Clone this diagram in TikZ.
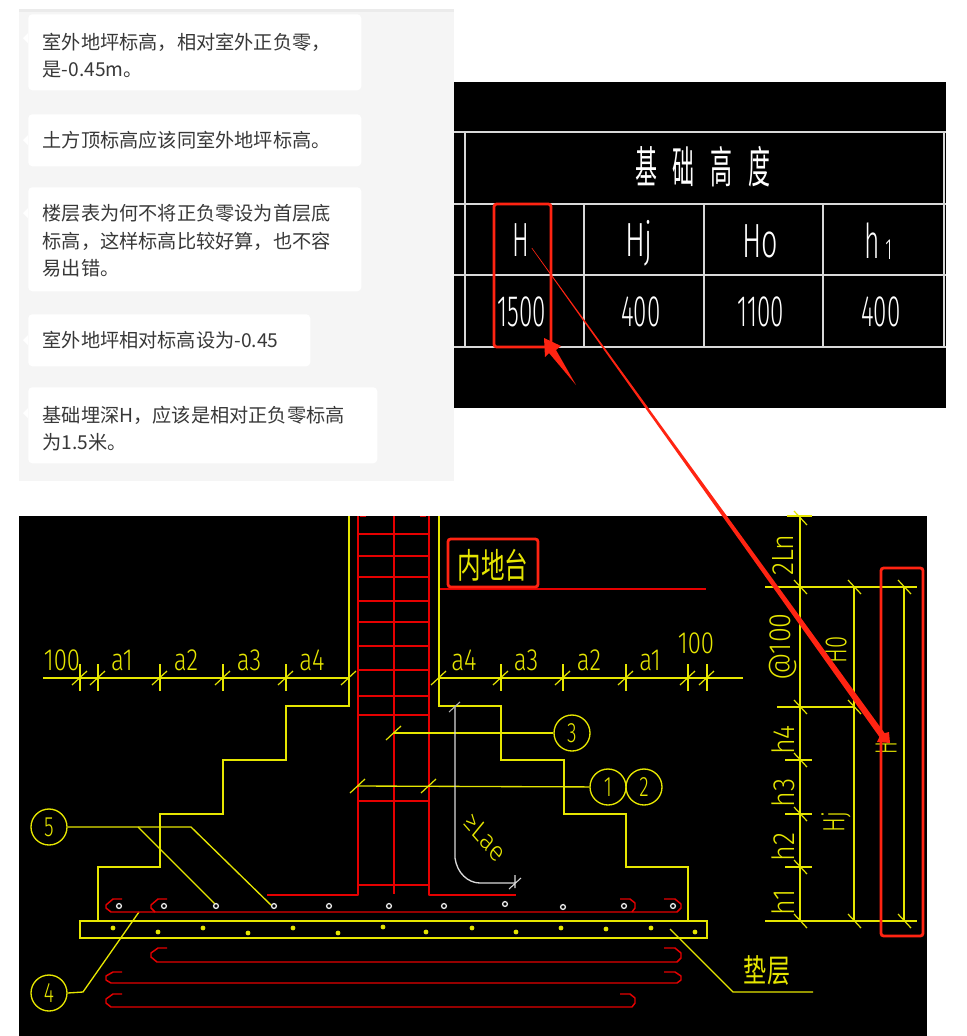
\documentclass[tikz,border=0pt]{standalone}
\usepackage{graphicx}
\usepackage{fontspec}
\setmainfont{Noto Sans CJK SC}
\newfontfamily\cadf{Fira Sans Light}
\usetikzlibrary{calc}
\definecolor{yl}{HTML}{E6E600}
\definecolor{rb}{HTML}{E60000}
\definecolor{anno}{HTML}{FF2412}
\definecolor{chatbg}{HTML}{F5F5F5}
\definecolor{tbl}{HTML}{D8D8D8}
\tikzset{
  bubble/.style={anchor=north west,fill=white,rounded corners=3pt,inner xsep=10.5pt,inner ysep=0pt,align=left,text=black!78,font=\fontsize{14.4}{20.6}\selectfont,minimum height=#1},
  wallline/.style={draw=yl,line width=1.15pt},
  leader/.style={draw=yl,line width=1pt},
  tickline/.style={draw=yl,line width=.9pt},
  rebar/.style={draw=rb,line width=1.1pt,line join=round},
  tline/.style={draw=tbl,line width=.9pt},
  annobox/.style={draw=anno,line width=2.1pt,rounded corners=2pt},
  cad/.style={inner sep=0pt,text=yl,font=\cadf\fontsize{#1}{#1}\selectfont},
  cadcn/.style={inner sep=0pt,text=yl,font=\fontsize{#1}{#1}\selectfont},
  wcad/.style={inner sep=0pt,text=white,font=\cadf\fontsize{#1}{#1}\selectfont},
  wcn/.style={inner sep=0pt,text=white,font=\fontsize{#1}{#1}\selectfont},
  circ/.style={draw=yl,line width=1pt,circle,minimum size=27pt,inner sep=0pt,text=yl,font=\cadf\fontsize{21}{21}\selectfont},
  ring/.style={draw=white!90!black,line width=1pt,fill=black},
}
\newcommand\slashup[2]{\draw[tickline] ({#1-8},{#2+7})--({#1+7},{#2-7});}
\newcommand\slashdn[2]{\draw[tickline] ({#1-6},{#2-7})--({#1+7},{#2+7});}
\newcommand\nar[1]{\scalebox{.7}[1]{#1}}
\newcommand\firststrut[1]{\rule{0pt}{#1}}
\begin{document}
\begin{tikzpicture}[x=.75pt,y=-.75pt]
\useasboundingbox (0,0) rectangle (967,1036);
\fill[white] (0,0) rectangle (967,1036);
% chat panel
\fill[chatbg] (19,9) rectangle (454,481);
\fill[black!8] (19,9) rectangle (454,12);
\foreach \y in {38,140,213,340,413}{\fill[white] (28,\y-5)--(23,\y)--(28,\y+5)--cycle;}
\node[bubble=57pt,minimum width=249.75pt,text width=228pt] (b1) at (28,14) {\firststrut{17pt}室外地坪标高，相对室外正负零，\\是-0.45m。};
\node[bubble=39pt,minimum width=249.75pt,text width=228pt] (b2) at (28,114) {土方顶标高应该同室外地坪标高。};
\node[bubble=78pt,minimum width=249.75pt,text width=228pt] (b3) at (28,187) {\firststrut{15pt}楼层表为何不将正负零设为首层底\\标高，这样标高比较好算，也不容\\易出错。};
\node[bubble=39pt,minimum width=211.5pt,text width=190pt] (b4) at (28,314) {室外地坪相对标高设为-0.45};
\node[bubble=57pt,minimum width=261.75pt,text width=240pt] (b5) at (28,387) {\firststrut{17pt}基础埋深H，应该是相对正负零标高\\为1.5米。};
% table panel
\fill[black] (454,82) rectangle (946,408);
\foreach \y in {132,204,275,347}{\draw[tline] (454,\y)--(946,\y);}
\foreach \x in {465,944}{\draw[tline] (\x,132)--(\x,347);}
\foreach \x in {584,704,823}{\draw[tline] (\x,204)--(\x,347);}
\node[wcn=33,xscale=.5] (title) at (703,167) {基\hspace{24pt}础\hspace{24pt}高\hspace{24pt}度};
\node[wcad=36,xscale=.52] (tH) at (521,240) {H};
\node[wcad=36,xscale=.62] (tHj) at (639,243) {Hj};
\node[wcad=36,xscale=.6] (tHo) at (760,241) {Ho};
\node[wcad=36,xscale=.55] (th) at (878,241) {h\hspace{8pt}\raisebox{-.5pt}{\fontsize{22}{22}\selectfont 1}};
\node[wcad=33,xscale=.55] (v1) at (522,312) {1500};
\node[wcad=33,xscale=.55] (v2) at (641,312) {400};
\node[wcad=33,xscale=.55] (v3) at (761,312) {1100};
\node[wcad=33,xscale=.55] (v4) at (881,312) {400};
% drawing panel
\fill[black] (19,516) rectangle (927,1036);
% column
\foreach \y in {534,556,577,601,622,646,670,696,715,801,885}{\draw[rebar] (358,\y)--(429,\y);}
\draw[rebar] (358,516)--(358,895)--(267,895);
\draw[rebar] (429,516)--(429,895)--(516,895);
\draw[rebar] (394,516)--(394,894);
\draw[rebar] (360,516.5)--(366,516.5) (420,516.5)--(426,516.5);
\draw[rb,line width=.9pt] (439,589)--(706,589);
% walls
\draw[wallline] (349,516)--(349,706)--(286,706)--(286,760)--(223,760)--(223,814)--(160,814)--(160,867)--(98,867)--(98,921);
\draw[wallline] (439,516)--(439,706)--(501,706)--(501,760)--(564,760)--(564,814)--(626,814)--(626,867)--(688,867)--(688,921);
\draw[wallline] (80,921) rectangle (707,938);
% horizontal dimensions
\draw[leader] (43,678)--(348,678) (439,678)--(743,678);
\foreach \x in {80,98,160,223,286,501,563,626,688,707}{\draw[tickline] (\x,664)--(\x,691); \slashup{\x}{678}}
\slashup{349}{678}
\slashup{439}{678}
\foreach \x/\t/\n in {62/100/p,122/a1/q,186/a2/r,249/a3/s,312/a4/t,464/a4/u,526/a3/v,589/a2/w,650/a1/x}{\node[cad=23,xscale=.78] (l\n) at (\x,660) {\t};}
\node[cad=23,xscale=.78] (ly) at (696,643) {100};
% leader labels
\coordinate (e3) at (394,733);
\coordinate (e1) at (358,786);
\node[circ] (c3) at (572,733) {\nar{3}};
\node[circ] (c1) at (608,787) {\nar{1}};
\node[circ] (c2) at (644,787) {\nar{2}};
\draw[leader] (c3)--(e3);
\draw[leader] (c1)--(e1);
\slashup{394}{733}
\slashup{358}{786}
\slashup{429}{786}
\node[circ] (c5) at (49,827) {\nar{5}};
\coordinate (k5) at (191,827);
\coordinate (j5) at (138,827);
\coordinate (m5) at (272,906);
\coordinate (n5) at (215,904);
\draw[leader] (c5)--(k5)--(m5);
\draw[leader] (j5)--(n5);
\node[circ] (c4) at (49,993) {\nar{4}};
\coordinate (k4) at (83,992);
\coordinate (m4) at (139,912);
\draw[leader] (c4.east)--(k4)--(m4);
% bars
\draw[rebar] (122,899)--(113,899)--(106,905)--(106,908)--(111,912)--(677,912)--(681,908)--(681,904)--(675,899)--(664,899);
\draw[rebar] (167,899)--(158,899)--(151,905)--(151,908)--(155,912);
\draw[rebar] (620,899)--(630,899)--(635,903)--(635,908)--(632,912);
\draw[rebar] (167,948)--(158,948)--(151,953)--(151,957)--(157,962)--(677,962)--(681,958)--(681,953)--(675,948)--(664,948);
\draw[rebar] (122,972)--(113,972)--(106,976)--(106,980)--(111,983)--(677,983)--(681,980)--(681,976)--(675,972)--(664,972);
\draw[rebar] (122,994)--(113,994)--(106,999)--(106,1003)--(111,1007)--(632,1007)--(635,1003)--(635,998)--(630,994)--(620,994);
% bar circles
\foreach \x/\y in {119/906,164/906,216/906,274/906,329/906,389/906,444/906,505/904,563/907,624/906,673/906}{\draw[ring] (\x,\y) circle (1.8pt);}
\foreach \x/\y in {113/928,158/932,203/928,248/933,293/928,338/933,383/927,426/932,472/928,516/932,561/928,606/929,651/928,695/932}{\fill[yl] (\x,\y) circle (1.8pt);}
% anchor bar
\draw[white!85!black,line width=1pt] (455,706)--(455,858) .. controls (457,873) and (468,883) .. (480,883)--(515,883);
\draw[white!85!black,line width=.8pt] (515,875)--(515,888) (509,889)--(521,878);
\draw[white!70!black,line width=.8pt] (449,712)--(460,702);
\node[cad=21,xscale=.85,rotate=-44] (lae) at (485,837) {≥Lae};
% padding
\coordinate (p1) at (670,929);
\coordinate (p2) at (733,992);
\coordinate (p3) at (813,992);
\draw[leader] (p1)--(p2)--(p3);
\node[cadcn=24,xscale=.72] (pad) at (767,970) {垫层};
% right dimensions
\draw[wallline,line width=1.6pt] (787,516)--(812,516);
\draw[leader] (800,516)--(800,921);
\draw[leader] (765,587)--(917,587) (777,707)--(854,707) (785,760)--(812,760) (785,814)--(812,814) (785,867)--(812,867) (765,921)--(917,921);
\draw[leader] (854,587)--(854,921) (904,587)--(904,921);
\foreach \x/\y in {800/518,800/587,854/587,904/587,800/707,854/707,800/760,800/814,800/867,800/921,854/921,904/921}{\slashdn{\x}{\y}}
\foreach \y/\t/\n in {555/2Ln/a,647/@100/b,740/h4/c,793/h3/d,847/h2/e,902/h1/f}{\node[cad=23,rotate=90,xscale=.88] (d\n) at (783,\y) {\t};}
\node[cad=23,rotate=90,xscale=.72] (dH0) at (836,650) {H0};
\node[cad=23,rotate=90,xscale=.72] (dHj) at (836,822) {Hj};
\node[cad=23,rotate=90,xscale=.62] (dH) at (886,748) {H};
% inner-platform label
\node[cadcn=26,xscale=.68] (nd) at (493,565) {内地台};
% annotations
\draw[annobox] (494,204) rectangle (551,347);
\draw[annobox] (448,539) rectangle (538,587);
\draw[annobox] (881,568) rectangle (923,936);
\fill[anno] (576,385)--(556,350)--(561,346)--(544,338)--(545,357)--(549,353)--cycle;
\fill[anno] (532,247.8)--(884.6,733.1)--(889,732)--(890,743)--(877,742)--(879.4,736.9)--(531.6,248.2)--cycle;
\end{tikzpicture}
\end{document}
